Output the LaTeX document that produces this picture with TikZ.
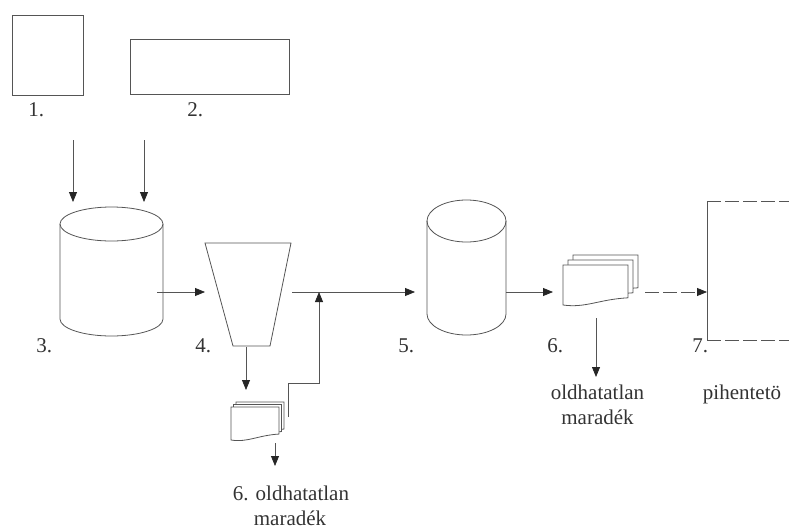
\documentclass[tikz,border=0pt]{standalone}
\usepackage{fontspec}
\setmainfont{Liberation Serif}
\usetikzlibrary{arrows.meta,calc}
\definecolor{linegray}{HTML}{555555}
\definecolor{txtgray}{HTML}{333333}
\newcommand\docpage[4]{%
  \draw[ln, fill=white] (#1,#2) -- ({#1+#3},#2) -- ({#1+#3},{#2+0.82*#4})
    .. controls ({#1+0.55*#3},{#2+0.86*#4}) and ({#1+0.35*#3},{#2+1.08*#4}) .. (#1,{#2+#4}) -- cycle;}
\begin{document}
\begin{tikzpicture}[x=1pt,y=-1pt,line width=0.8pt,
  ln/.style={draw=linegray},
  arr/.style={ln,-{Triangle[length=10pt,width=8pt,color=black!85]}},
  dsh/.style={dash pattern=on 14pt off 4pt},
  rect/.style={ln,rectangle,inner sep=0pt,outer sep=0pt},
  holder/.style={draw=none,rectangle,inner sep=0pt,outer sep=0pt},
  lbl/.style={font=\fontsize{21}{25}\selectfont,text=txtgray,inner sep=0pt}]
\useasboundingbox (0,0) rectangle (789,532);

% boxes 1 and 2
\node[rect,minimum width=71pt,minimum height=80pt] (box1) at (47.5,55) {};
\node[rect,minimum width=159pt,minimum height=55pt] (box2) at (209.5,66.5) {};
\node[lbl,anchor=base west] (l1) at (28,117) {1.};
\node[lbl,anchor=base west] (l2) at (187,117) {2.};

% cylinder 3
\node[holder,minimum width=103pt,minimum height=129pt] (cyl3) at (111.5,271.5) {};
\draw[ln] ($(cyl3.north)+(0,17)$) ellipse [x radius=51.5pt,y radius=17pt];
\draw[ln] ($(cyl3.north west)+(0,17)$) -- ($(cyl3.south west)+(0,-17)$)
  arc[start angle=180,end angle=360,x radius=51.5pt,y radius=17pt]
  -- ($(cyl3.north east)+(0,17)$);
\node[lbl,anchor=base west] (l3) at (36,352) {3.};

% trapezoid 4
\node[holder,minimum width=86pt,minimum height=103pt] (trap4) at (248,294.5) {};
\draw[ln] (trap4.north west) -- (trap4.north east) -- ($(trap4.south east)+(-21,0)$)
  -- ($(trap4.south west)+(28,0)$) -- cycle;
\node[lbl,anchor=base west] (l4) at (195,352) {4.};

% small document stack
\node[holder,minimum width=54pt,minimum height=43pt] (doc6a) at (258,420.5) {};
\docpage{236}{402}{48}{33}
\docpage{233.5}{404.5}{48}{33}
\docpage{231}{407}{48}{33}
\node[lbl,anchor=base] (l6a) at (291,500) {6. oldhatatlan};
\node[lbl,anchor=base] (l6b) at (290,525) {maradék};

% cylinder 5
\node[holder,minimum width=79pt,minimum height=135pt] (cyl5) at (466.5,267.5) {};
\draw[ln] ($(cyl5.north)+(0,21)$) ellipse [x radius=39.5pt,y radius=21pt];
\draw[ln] ($(cyl5.north west)+(0,21)$) -- ($(cyl5.south west)+(0,-21)$)
  arc[start angle=180,end angle=360,x radius=39.5pt,y radius=21pt]
  -- ($(cyl5.north east)+(0,21)$);
\node[lbl,anchor=base west] (l5) at (398,352) {5.};

% big document stack
\node[holder,minimum width=75pt,minimum height=50pt] (doc6) at (600.5,280) {};
\docpage{573}{255}{65}{40}
\docpage{568}{260}{65}{40}
\docpage{563}{265}{65}{40}
\node[lbl,anchor=base west] (l6) at (547,352) {6.};
\node[lbl,anchor=base] (l6c) at (597.5,399) {oldhatatlan};
\node[lbl,anchor=base] (l6d) at (597.5,424) {maradék};

% box 7 (cut by the right edge)
\node[holder,minimum width=163pt,minimum height=139pt] (box7) at (788.5,270.5) {};
\draw[ln] (box7.north west) -- (box7.south west);
\draw[ln,dsh] (box7.north west) -- (box7.north east);
\draw[ln,dsh] (box7.south west) -- (box7.south east);
\node[lbl,anchor=base west] (l7) at (692,352) {7.};
\node[lbl,anchor=base] (l7b) at (742,399) {pihentetö};

% connectors
\coordinate (a1s) at (73,140);   \coordinate (a1e) at (73,202);
\coordinate (a2s) at (144,140);  \coordinate (a2e) at (144,202);
\draw[arr] (a1s) -- (a1e);
\draw[arr] (a2s) -- (a2e);
\coordinate (a3s) at (157,292);  \coordinate (a3e) at (205,292);
\draw[arr] (a3s) -- (a3e);
\coordinate (a4s) at (292,292);  \coordinate (a4e) at (415,292);
\draw[arr] (a4s) -- (a4e);
\coordinate (a4d) at (246,347);  \coordinate (a4f) at (246,390);
\draw[arr] (a4d) -- (a4f);
\coordinate (r1) at (288,417);   \coordinate (r2) at (319,292);
\draw[arr] (r1) -- (288,383) -- (319,383) -- (r2);
\coordinate (a6s) at (275,443);  \coordinate (a6e) at (275,466);
\draw[arr] (a6s) -- (a6e);
\coordinate (a5s) at (506,292);  \coordinate (a5e) at (553,292);
\draw[arr] (a5s) -- (a5e);
\coordinate (a7s) at (645,292);
\draw[arr,dsh] (a7s) -- (box7.west |- a7s);
\coordinate (a8s) at (596,318);  \coordinate (a8e) at (596,377);
\draw[arr] (a8s) -- (a8e);
\end{tikzpicture}
\end{document}
